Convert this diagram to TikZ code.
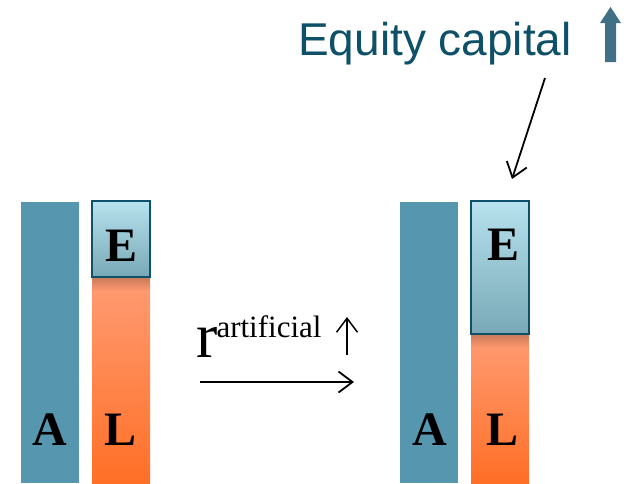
\documentclass[tikz,border=0pt]{standalone}
\usepackage{fontspec}
\setmainfont{Liberation Serif}
\newfontfamily\capfont{Liberation Sans}
\usetikzlibrary{arrows.meta,positioning,fadings}
\definecolor{assetblue}{RGB}{86,151,175}
\definecolor{eqtop}{RGB}{183,226,238}
\definecolor{eqbot}{RGB}{120,168,182}
\definecolor{eqborder}{RGB}{14,81,104}
\definecolor{liabtop}{RGB}{255,156,116}
\definecolor{liabbot}{RGB}{255,111,38}
\definecolor{captext}{RGB}{13,80,104}
\definecolor{uparrow}{RGB}{63,112,133}

\begin{document}
\begin{tikzpicture}[x=1pt,y=-1pt,
  bar/.style={anchor=north west,minimum width=58pt,inner sep=0pt,outer sep=0pt},
  abar/.style={bar,fill=assetblue,minimum height=281pt},
  lbar/.style={bar,top color=liabtop,bottom color=liabbot},
  ebox/.style={bar,draw=eqborder,line width=1.6pt,top color=eqtop,bottom color=eqbot},
  letter/.style={font=\fontsize{48}{48}\bfseries\selectfont,inner sep=0pt},
  arr/.style={-{Straight Barb[length=14pt,width=21pt]},line width=1.8pt}]
\useasboundingbox (0,0) rectangle (628,483);

% balance sheet before
\node[abar] (A1) at (21,202) {};
\node[lbar,minimum height=206pt] (L1) at (92,277) {};
\fill[black,opacity=.22,path fading=south] (92,277) rectangle (150,291);
\node[ebox,minimum height=76pt] (E1) at (92,201) {};
\node[letter] (tA1) at (50,430) {A};
\node[letter] (tL1) at (121,430) {L};
\node[letter] (tE1) at (122,246) {E};

% balance sheet after
\node[abar] (A2) at (400,202) {};
\node[lbar,minimum height=149pt] (L2) at (471,334) {};
\fill[black,opacity=.22,path fading=south] (471,334) rectangle (529,348);
\node[ebox,minimum height=133pt] (E2) at (471,201) {};
\node[letter] (tA2) at (430,430) {A};
\node[letter] (tL2) at (502,430) {L};
\node[letter] (tE2) at (503,245) {E};

% rate
\node[anchor=base west,inner sep=0pt] (rate) at (196,357)
  {{\fontsize{64}{64}\selectfont r}\kern-1pt{\fontsize{31}{31}\selectfont\raisebox{20pt}{artificial}}};
\coordinate (up0) at (347,355);
\coordinate (up1) at (347,317);
\draw[arr,line width=1.5pt] (up0) -- (up1);
\coordinate (h0) at (200,382);
\coordinate (h1) at (354,382);
\draw[arr] (h0) -- (h1);

% equity capital
\node[anchor=base west,inner sep=0pt,text=captext,font=\capfont\fontsize{46}{46}\selectfont] (cap) at (298,55) {Equity capital};
\fill[uparrow] (605,62) -- (605,23) -- (600,23) -- (610.5,7) -- (621,23) -- (616,23) -- (616,62) -- cycle;
\coordinate (p0) at (545,78);
\coordinate (p1) at (512,179);
\draw[arr] (p0) -- (p1);
\end{tikzpicture}
\end{document}
